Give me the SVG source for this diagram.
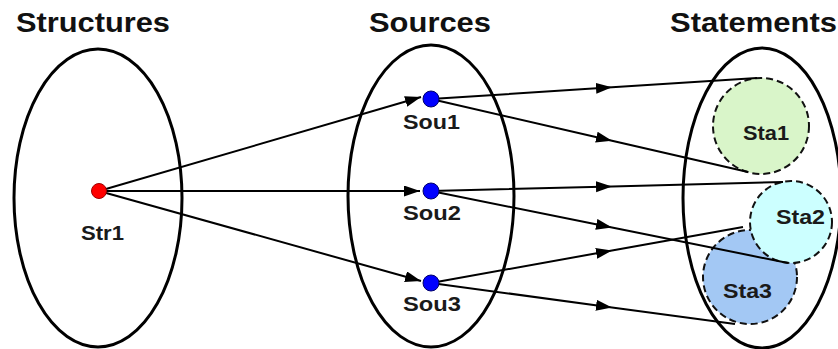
<svg xmlns="http://www.w3.org/2000/svg" width="838" height="349" viewBox="0 0 838 349">
  <style>
    .title { font-family: "Liberation Sans", Arial, sans-serif; font-weight: bold; font-size: 27px; fill: #111; }
    .label { font-family: "Liberation Sans", Arial, sans-serif; font-weight: bold; font-size: 20px; fill: #1a1a1a; }
    .set { fill: none; stroke: #000; stroke-width: 3; }
    .arrow { fill: none; stroke: #000; stroke-width: 2; }
    .stmt { stroke: #111; stroke-width: 2; stroke-dasharray: 7 4; }
    .src { fill: #0000ff; stroke: #00006a; stroke-width: 1; }
    .str { fill: #ff0000; stroke: #a00000; stroke-width: 1; }
  </style>
  <defs>
    <marker id="head" markerUnits="userSpaceOnUse" markerWidth="17" markerHeight="12" refX="16" refY="5.5" orient="auto">
      <path d="M0,0 L16,5.5 L0,11 z" fill="#000"/>
    </marker>
  </defs>

  <rect width="838" height="349" fill="#fff"/>

  <!-- column titles -->
  <text class="title" x="16" y="32" textLength="154" lengthAdjust="spacingAndGlyphs">Structures</text>
  <text class="title" x="369" y="32" textLength="122" lengthAdjust="spacingAndGlyphs">Sources</text>
  <text class="title" x="670" y="32" textLength="167" lengthAdjust="spacingAndGlyphs">Statements</text>

  <!-- set outlines -->
  <g id="structures">
    <ellipse class="set" cx="98" cy="198" rx="84" ry="149"/>
  </g>
  <g id="sources">
    <ellipse class="set" cx="431" cy="196" rx="83" ry="151"/>
  </g>
  <g id="statements">
    <ellipse class="set" cx="762" cy="198" rx="79" ry="150"/>
  </g>

  <!-- statement circles -->
  <g id="sta1">
    <circle class="stmt" cx="761" cy="126" r="48" fill="#d9f5c9"/>
    <text class="label" x="743" y="140" textLength="46" lengthAdjust="spacingAndGlyphs">Sta1</text>
  </g>
  <g id="sta3">
    <circle class="stmt" cx="750" cy="277" r="47" fill="#a3c8f4"/>
    <text class="label" x="723" y="298" textLength="49" lengthAdjust="spacingAndGlyphs">Sta3</text>
  </g>
  <g id="sta2">
    <circle class="stmt" cx="791" cy="222" r="41" fill="#ccffff"/>
    <text class="label" x="776" y="224" textLength="49" lengthAdjust="spacingAndGlyphs">Sta2</text>
  </g>

  <!-- connectors -->
  <g id="connectors">
    <line class="arrow" x1="99" y1="191" x2="421" y2="97" marker-end="url(#head)"/>
    <line class="arrow" x1="99" y1="191" x2="420" y2="191" marker-end="url(#head)"/>
    <line class="arrow" x1="99" y1="191" x2="421" y2="281" marker-end="url(#head)"/>

    <path class="arrow" d="M431,99 L612,87.3 L757,78" marker-mid="url(#head)"/>
    <path class="arrow" d="M431,99 L612,140.7 L748,172" marker-mid="url(#head)"/>
    <path class="arrow" d="M431,191 L612,186.4 L783,182" marker-mid="url(#head)"/>
    <path class="arrow" d="M431,191 L612,227.5 L788,263" marker-mid="url(#head)"/>
    <path class="arrow" d="M431,283 L612,250.5 L743,227" marker-mid="url(#head)"/>
    <path class="arrow" d="M431,283 L612,307.4 L735,324" marker-mid="url(#head)"/>
  </g>

  <!-- element nodes -->
  <g id="str1">
    <circle class="str" cx="99" cy="191" r="7.5"/>
    <text class="label" x="81" y="240" textLength="43" lengthAdjust="spacingAndGlyphs">Str1</text>
  </g>
  <g id="sou1">
    <circle class="src" cx="431" cy="99" r="8"/>
    <text class="label" x="403" y="129" textLength="57" lengthAdjust="spacingAndGlyphs">Sou1</text>
  </g>
  <g id="sou2">
    <circle class="src" cx="431" cy="191" r="8"/>
    <text class="label" x="403" y="220" textLength="58" lengthAdjust="spacingAndGlyphs">Sou2</text>
  </g>
  <g id="sou3">
    <circle class="src" cx="431" cy="283" r="8"/>
    <text class="label" x="403" y="311" textLength="58" lengthAdjust="spacingAndGlyphs">Sou3</text>
  </g>
</svg>
